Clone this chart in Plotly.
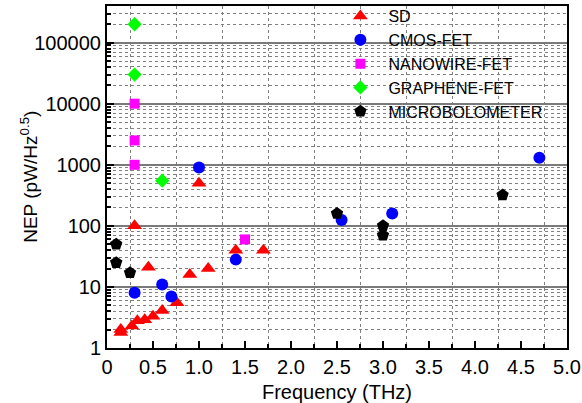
import plotly.graph_objects as go

# ---- data (Frequency THz, NEP pW/Hz^0.5) ----
sd_x = [0.15, 0.15, 0.27, 0.33, 0.41, 0.50, 0.60, 0.76, 0.30, 0.45, 0.90, 1.00, 1.10, 1.40, 1.70]
sd_y = [1.8, 2.0, 2.3, 2.8, 2.9, 3.3, 4.1, 5.5, 100, 21, 16, 500, 20, 40, 40]

cmos_x = [0.30, 0.60, 0.70, 1.00, 1.40, 2.55, 3.10, 4.70]
cmos_y = [8, 11, 7, 900, 28, 125, 160, 1300]

nano_x = [0.30, 0.30, 0.30, 1.50]
nano_y = [10000, 2500, 1000, 60]

graph_x = [0.30, 0.30, 0.60]
graph_y = [200000, 30000, 550]

bolo_x = [0.10, 0.10, 0.25, 2.50, 3.00, 3.00, 4.30]
bolo_y = [50, 25, 17, 160, 100, 70, 320]

x_ticks = [0, 0.5, 1.0, 1.5, 2.0, 2.5, 3.0, 3.5, 4.0, 4.5, 5.0]
x_tick_text = ["0", "0.5", "1.0", "1.5", "2.0", "2.5", "3.0", "3.5", "4.0", "4.5", "5.0"]
y_ticks = [1, 10, 100, 1000, 10000, 100000]
y_tick_text = ["1", "10", "100", "1000", "10000", "100000"]

x_grid = [0.25 + 0.5 * k for k in range(10)]
y_minor = [m * d for d in [1, 10, 100, 1000, 10000, 100000] for m in range(2, 10)]

FONT = "Arial, Liberation Sans, sans-serif"

fig = go.Figure()
series = [
    ("SD", sd_x, sd_y, "triangle-up", "#ff0000", 13),
    ("CMOS-FET", cmos_x, cmos_y, "circle", "#0000ff", 12),
    ("NANOWIRE-FET", nano_x, nano_y, "square", "#ff00ff", 10),
    ("GRAPHENE-FET", graph_x, graph_y, "diamond", "#00ff00", 11),
    ("MICROBOLOMETER", bolo_x, bolo_y, "pentagon", "#000000", 13),
]
for name, xs, ys, sym, col, sz in series:
    fig.add_trace(go.Scatter(
        x=xs, y=ys, mode="markers", name=name,
        marker=dict(symbol=sym, color=col, size=sz, line=dict(width=0)),
    ))

fig.update_layout(
    width=582, height=403,
    margin=dict(l=107, r=15, t=6, b=55, autoexpand=False),
    paper_bgcolor="white", plot_bgcolor="white",
    font=dict(family=FONT, size=20, color="black"),
    showlegend=True,
    legend=dict(
        x=0.49, y=1.02, xanchor="left", yanchor="top",
        bgcolor="rgba(255,255,255,0)", borderwidth=0,
        font=dict(family=FONT, size=16, color="black"),
        tracegroupgap=0, itemwidth=46,
    ),
    annotations=[dict(
        text="NEP (pW/Hz<sup>0.5</sup>)", textangle=-90,
        xref="paper", yref="paper", x=-0.17, y=0.5,
        xanchor="center", yanchor="middle", showarrow=False,
        font=dict(family=FONT, size=19, color="black"),
    )],
)

fig.update_xaxes(
    range=[0, 5], tickmode="array", tickvals=x_ticks, ticktext=x_tick_text,
    ticks="inside", ticklen=7, tickwidth=1.5, tickcolor="black",
    showline=True, linecolor="black", linewidth=2, mirror=True,
    showgrid=False, zeroline=False,
    minor=dict(tickmode="array", tickvals=x_grid, ticks="inside", ticklen=4,
               tickcolor="black", showgrid=True, gridcolor="#808080",
               griddash="dot", gridwidth=1),
    title=dict(text="Frequency (THz)", font=dict(size=20), standoff=11),
)
fig.update_yaxes(
    type="log", range=[0, 5.6], tickmode="array", tickvals=y_ticks, ticktext=y_tick_text,
    ticks="inside", ticklen=7, tickwidth=1.5, tickcolor="black",
    showline=True, linecolor="black", linewidth=2, mirror=True,
    showgrid=True, gridcolor="#7a7a7a", gridwidth=2, zeroline=False,
    minor=dict(tickmode="array", tickvals=y_minor, ticks="inside", ticklen=4,
               tickcolor="black", showgrid=True, gridcolor="#808080",
               griddash="dot", gridwidth=1),
)

fig.write_html("out.html")
